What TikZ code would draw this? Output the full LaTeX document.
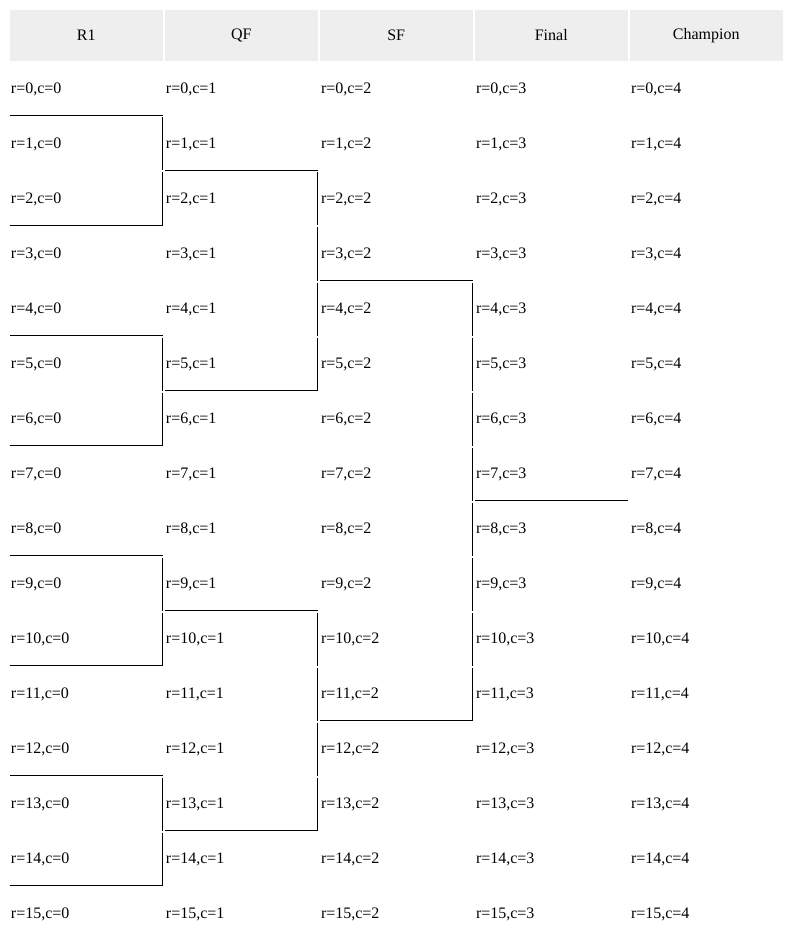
\documentclass[tikz,border=0pt]{standalone}
\usepackage{fontspec}
\setmainfont{Liberation Serif}
\usetikzlibrary{matrix}
\definecolor{headgray}{RGB}{238,238,238}
\tikzset{border/.style={line width=1pt, black}}

\begin{document}
\begin{tikzpicture}[x=1pt,y=1pt]
		\useasboundingbox (0,0) rectangle (787,-933);
		\matrix [matrix of nodes,
		anchor=north west, inner sep=0pt, outer sep=0pt,
		column sep=2.5pt, row sep=2pt,
		nodes={text width=150.5pt, inner xsep=1pt, inner ysep=0pt, outer sep=0pt,
			minimum height=53pt, anchor=center, align=left,
			font=\fontsize{16}{19}\selectfont},
		row 1/.style={nodes={fill=headgray, align=center, minimum height=50.5pt}}]
		(bracket) at (10,-10)
		{
			R1 & QF & SF & Final & Champion \\
			r=0,c=0 & r=0,c=1 & r=0,c=2 & r=0,c=3 & r=0,c=4 \\
			r=1,c=0 & r=1,c=1 & r=1,c=2 & r=1,c=3 & r=1,c=4 \\
			r=2,c=0 & r=2,c=1 & r=2,c=2 & r=2,c=3 & r=2,c=4 \\
			r=3,c=0 & r=3,c=1 & r=3,c=2 & r=3,c=3 & r=3,c=4 \\
			r=4,c=0 & r=4,c=1 & r=4,c=2 & r=4,c=3 & r=4,c=4 \\
			r=5,c=0 & r=5,c=1 & r=5,c=2 & r=5,c=3 & r=5,c=4 \\
			r=6,c=0 & r=6,c=1 & r=6,c=2 & r=6,c=3 & r=6,c=4 \\
			r=7,c=0 & r=7,c=1 & r=7,c=2 & r=7,c=3 & r=7,c=4 \\
			r=8,c=0 & r=8,c=1 & r=8,c=2 & r=8,c=3 & r=8,c=4 \\
			r=9,c=0 & r=9,c=1 & r=9,c=2 & r=9,c=3 & r=9,c=4 \\
			r=10,c=0 & r=10,c=1 & r=10,c=2 & r=10,c=3 & r=10,c=4 \\
			r=11,c=0 & r=11,c=1 & r=11,c=2 & r=11,c=3 & r=11,c=4 \\
			r=12,c=0 & r=12,c=1 & r=12,c=2 & r=12,c=3 & r=12,c=4 \\
			r=13,c=0 & r=13,c=1 & r=13,c=2 & r=13,c=3 & r=13,c=4 \\
			r=14,c=0 & r=14,c=1 & r=14,c=2 & r=14,c=3 & r=14,c=4 \\
			r=15,c=0 & r=15,c=1 & r=15,c=2 & r=15,c=3 & r=15,c=4 \\
		};
		% bottom borders
		\foreach \row/\col in {2/1,4/1,6/1,8/1,10/1,12/1,14/1,16/1,
			3/2,7/2,11/2,15/2, 5/3,13/3, 9/4}
		\draw [border] (bracket-\row-\col.south west) -- (bracket-\row-\col.south east);
		% right borders
		\foreach \row/\col in {3/1,4/1,7/1,8/1,11/1,12/1,15/1,16/1,
			4/2,5/2,6/2,7/2,12/2,13/2,14/2,15/2,
			6/3,7/3,8/3,9/3,10/3,11/3,12/3,13/3}
		\draw [border] (bracket-\row-\col.north east) -- (bracket-\row-\col.south east);
\end{tikzpicture}
\end{document}
